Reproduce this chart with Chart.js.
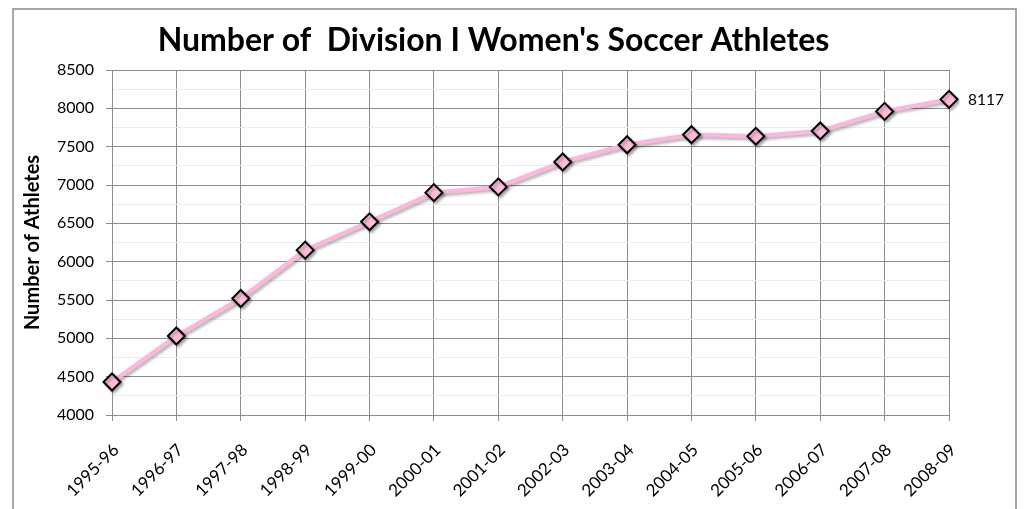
<!DOCTYPE html>
<html>
<head>
<meta charset="utf-8">
<script src="https://cdn.jsdelivr.net/npm/chart.js@4/dist/chart.umd.min.js"></script>
<style>
  html, body { margin: 0; padding: 0; background: #fff; }
  #wrap { width: 1028px; height: 509px; }
</style>
</head>
<body>
<div id="wrap"><canvas id="athletesChart" width="1028" height="509"></canvas></div>
<script>
// Données du graphique
const seasons = ['1995-96', '1996-97', '1997-98', '1998-99', '1999-00', '2000-01', '2001-02',
  '2002-03', '2003-04', '2004-05', '2005-06', '2006-07', '2007-08', '2008-09'];
const athletes = [4430, 5030, 5520, 6150, 6520, 6900, 6975, 7300, 7525, 7655, 7635, 7705, 7960, 8117];
const yMin = 4000;
const yMax = 8500;
const chartTitle = "Number of  Division I Women's Soccer Athletes";
const yTitle = 'Number of Athletes';

const FONT = 'Lato, "Open Sans", sans-serif';

// Ombre portée sous la ligne
const shadowPlugin = {
  id: 'shadow',
  beforeDatasetsDraw(chart) {
    const ctx = chart.ctx;
    ctx.save();
    ctx.shadowColor = 'rgba(0,0,0,0.3)';
    ctx.shadowBlur = 3;
    ctx.shadowOffsetX = 2;
    ctx.shadowOffsetY = 2;
  },
  afterDatasetsDraw(chart) {
    chart.ctx.restore();
  }
};

// Cadre extérieur + étiquette de la dernière valeur
const extrasPlugin = {
  id: 'extras',
  afterDraw(chart) {
    const ctx = chart.ctx;
    ctx.save();
    ctx.strokeStyle = '#8a8a8a';
    ctx.lineWidth = 1.5;
    ctx.strokeRect(13, 9, 1003, 530);

    const meta = chart.getDatasetMeta(0);
    const last = meta.data[meta.data.length - 1];
    ctx.fillStyle = '#000';
    ctx.font = '15.5px ' + FONT;
    ctx.textBaseline = 'middle';
    ctx.textAlign = 'left';
    ctx.fillText(String(athletes[athletes.length - 1]), last.x + 19, last.y + 1);
    ctx.restore();
  }
};

const isMajor = v => v % 500 === 0;

new Chart(document.getElementById('athletesChart'), {
  type: 'line',
  data: {
    labels: seasons,
    datasets: [{
      data: athletes,
      borderColor: '#fbb8da',
      borderWidth: 4.5,
      tension: 0,
      pointStyle: 'rectRot',
      pointRadius: 8.5,
      pointBorderWidth: 2,
      pointBackgroundColor: '#ffbcdc',
      pointBorderColor: '#000'
    }]
  },
  options: {
    responsive: false,
    animation: false,
    layout: { padding: { left: 38, right: 79, top: 0, bottom: 0 } },
    plugins: {
      legend: { display: false },
      tooltip: { enabled: false },
      title: {
        display: true,
        text: chartTitle,
        color: '#000',
        font: { family: FONT, size: 32, weight: 'bold' },
        padding: { top: 21, bottom: 10.6 }
      }
    },
    scales: {
      x: {
        offset: false,
        afterFit(scale) { scale.height = 94; },
        grid: { color: '#8c8c8c', tickColor: '#8c8c8c', tickLength: 6, lineWidth: 1 },
        border: { color: '#8c8c8c' },
        ticks: {
          color: '#000',
          font: { family: FONT, size: 17 },
          minRotation: 45,
          maxRotation: 45,
          autoSkip: false,
          padding: 19,
          labelOffset: 4
        }
      },
      y: {
        min: yMin,
        max: yMax,
        afterFit(scale) { scale.width = 74; },
        title: {
          display: true,
          text: yTitle,
          color: '#000',
          font: { family: FONT, size: 20, weight: 'bold' },
          padding: { top: -17, bottom: 0 }
        },
        grid: {
          color: ctx => isMajor(ctx.tick.value) ? '#8c8c8c' : '#ececec',
          tickColor: ctx => isMajor(ctx.tick.value) ? '#8c8c8c' : 'rgba(0,0,0,0)',
          tickLength: 6,
          lineWidth: 1
        },
        border: { color: '#8c8c8c' },
        ticks: {
          stepSize: 250,
          autoSkip: false,
          color: '#000',
          font: { family: FONT, size: 16 },
          padding: 12,
          callback: v => isMajor(v) ? String(v) : ''
        }
      }
    }
  },
  plugins: [shadowPlugin, extrasPlugin]
});
</script>
</body>
</html>
